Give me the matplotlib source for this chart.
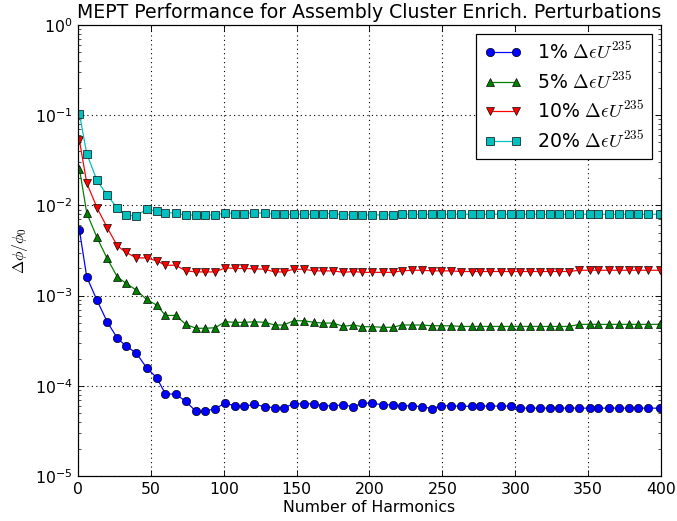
import matplotlib
matplotlib.use("Agg")
import matplotlib.pyplot as plt
from matplotlib.ticker import LogLocator, FixedLocator

plt.rcParams.update({
    "font.family": "DejaVu Sans",
    "mathtext.fontset": "cm",
    "font.size": 14.2,
    "xtick.direction": "in",
    "ytick.direction": "in",
    "xtick.top": True,
    "ytick.right": True,
    "xtick.major.size": 5,
    "ytick.major.size": 5,
    "xtick.minor.size": 2.5,
    "ytick.minor.size": 2.5,
    "xtick.major.pad": 5,
    "ytick.major.pad": 5,
    "axes.linewidth": 1.1,
    "lines.linewidth": 1.1,
})

harmonics = [1, 6, 13, 20, 27, 33, 40, 47, 54, 60,
             67, 74, 81, 87, 94, 101, 108, 114, 121, 128,
             135, 141, 148, 155, 162, 168, 175, 182, 189, 195,
             202, 209, 216, 222, 229, 236, 243, 249, 256, 263,
             270, 276, 283, 290, 297, 303, 310, 317, 324, 330,
             337, 344, 351, 357, 364, 371, 378, 384, 391, 399]

err_1pct = [5.3e-3, 1.61e-3, 8.9e-4, 5.13e-4, 3.36e-4, 2.76e-4, 2.30e-4, 1.59e-4, 1.23e-4, 8.1e-5,
            8.1e-5, 6.7e-5, 5.2e-5, 5.2e-5, 5.6e-5, 6.4e-5, 6.0e-5, 5.9e-5, 6.27e-5, 5.85e-5,
            5.7e-5, 5.7e-5, 6.31e-5, 6.31e-5, 6.31e-5, 6.0e-5, 6.0e-5, 6.15e-5, 5.85e-5, 6.42e-5,
            6.42e-5, 6.15e-5, 6.15e-5, 6.0e-5, 6.0e-5, 5.85e-5, 5.6e-5, 6.0e-5, 6.0e-5, 5.9e-5,
            5.95e-5, 5.95e-5, 5.95e-5, 5.95e-5, 5.95e-5, 5.65e-5, 5.65e-5, 5.65e-5, 5.65e-5, 5.65e-5,
            5.65e-5, 5.65e-5, 5.65e-5, 5.65e-5, 5.65e-5, 5.65e-5, 5.65e-5, 5.65e-5, 5.65e-5, 5.65e-5]

err_5pct = [2.55e-2, 8.24e-3, 4.41e-3, 2.58e-3, 1.61e-3, 1.37e-3, 1.15e-3, 9.08e-4, 7.85e-4, 6.03e-4,
            6.03e-4, 4.80e-4, 4.34e-4, 4.34e-4, 4.40e-4, 5.13e-4, 5.05e-4, 5.05e-4, 5.13e-4, 5.05e-4,
            4.72e-4, 4.72e-4, 5.26e-4, 5.26e-4, 5.05e-4, 4.96e-4, 4.96e-4, 4.56e-4, 4.72e-4, 4.52e-4,
            4.52e-4, 4.45e-4, 4.45e-4, 4.72e-4, 4.72e-4, 4.72e-4, 4.63e-4, 4.63e-4, 4.63e-4, 4.55e-4,
            4.55e-4, 4.55e-4, 4.55e-4, 4.55e-4, 4.55e-4, 4.55e-4, 4.55e-4, 4.55e-4, 4.55e-4, 4.55e-4,
            4.55e-4, 4.80e-4, 4.80e-4, 4.80e-4, 4.80e-4, 4.80e-4, 4.80e-4, 4.80e-4, 4.80e-4, 4.80e-4]

err_10pct = [5.25e-2, 1.77e-2, 9.46e-3, 5.68e-3, 3.56e-3, 3.01e-3, 2.62e-3, 2.62e-3, 2.43e-3, 2.17e-3,
             2.17e-3, 1.88e-3, 1.83e-3, 1.83e-3, 1.83e-3, 2.03e-3, 2.00e-3, 2.00e-3, 1.98e-3, 1.96e-3,
             1.83e-3, 1.83e-3, 1.96e-3, 1.96e-3, 1.88e-3, 1.88e-3, 1.88e-3, 1.81e-3, 1.85e-3, 1.81e-3,
             1.81e-3, 1.81e-3, 1.81e-3, 1.88e-3, 1.91e-3, 1.91e-3, 1.88e-3, 1.88e-3, 1.88e-3, 1.85e-3,
             1.85e-3, 1.85e-3, 1.85e-3, 1.85e-3, 1.85e-3, 1.85e-3, 1.85e-3, 1.85e-3, 1.85e-3, 1.85e-3,
             1.85e-3, 1.91e-3, 1.91e-3, 1.91e-3, 1.91e-3, 1.91e-3, 1.91e-3, 1.91e-3, 1.91e-3, 1.91e-3]

err_20pct = [1.035e-1, 3.74e-2, 1.90e-2, 1.30e-2, 9.3e-3, 7.78e-3, 7.64e-3, 9.06e-3, 8.61e-3, 8.33e-3,
             8.24e-3, 7.78e-3, 7.84e-3, 7.84e-3, 7.84e-3, 8.24e-3, 8.11e-3, 8.11e-3, 8.24e-3, 8.24e-3,
             7.98e-3, 7.98e-3, 7.98e-3, 7.98e-3, 7.98e-3, 8.11e-3, 8.11e-3, 7.84e-3, 7.84e-3, 7.84e-3,
             7.84e-3, 7.84e-3, 7.84e-3, 7.98e-3, 7.98e-3, 7.98e-3, 7.98e-3, 7.98e-3, 7.98e-3, 7.98e-3,
             7.98e-3, 7.98e-3, 7.98e-3, 7.98e-3, 7.98e-3, 7.98e-3, 7.98e-3, 7.98e-3, 7.98e-3, 7.98e-3,
             7.98e-3, 7.98e-3, 7.98e-3, 7.98e-3, 7.98e-3, 7.98e-3, 7.98e-3, 7.98e-3, 7.98e-3, 7.98e-3]

series = [
    (err_1pct, "b", "o", r"1% $\Delta\epsilon U^{235}$"),
    (err_5pct, "g", "^", r"5% $\Delta\epsilon U^{235}$"),
    (err_10pct, "r", "v", r"10% $\Delta\epsilon U^{235}$"),
    (err_20pct, "c", "s", r"20% $\Delta\epsilon U^{235}$"),
]

fig = plt.figure(figsize=(677 / 80, 521 / 80), dpi=80)
ax = fig.add_axes([78 / 677, 1 - 476 / 521, 583 / 677, 451 / 521])

for vals, color, marker, label in series:
    ax.semilogy(harmonics, vals, color=color, marker=marker, markersize=7.5,
                markeredgecolor="k", markeredgewidth=0.6, linewidth=1.1, label=label)

ax.set_xlim(0, 400)
ax.set_ylim(1e-5, 1)
ax.xaxis.set_major_locator(FixedLocator([0, 50, 100, 150, 200, 250, 300, 350, 400]))
ax.yaxis.set_major_locator(LogLocator(base=10, numticks=10))
ax.yaxis.set_minor_locator(LogLocator(base=10, subs=range(2, 10), numticks=10))
ax.grid(True, which="major", color="k", linestyle=(0, (1, 3)), linewidth=1.0)
ax.tick_params(which="both", colors="k")

ax.set_title("MEPT Performance for Assembly Cluster Enrich. Perturbations", fontsize=17)
ax.set_xlabel("Number of Harmonics", fontsize=14.2, labelpad=3)
ax.set_ylabel(r"$\Delta\phi/\phi_0$", fontsize=14.2)

leg = ax.legend(loc="upper right", numpoints=2, fontsize=17, fancybox=False,
                framealpha=1.0, edgecolor="k", borderaxespad=0.5,
                handlelength=2.0, labelspacing=0.45)
leg.get_frame().set_linewidth(1.1)

fig.savefig("out.png", dpi=80)
